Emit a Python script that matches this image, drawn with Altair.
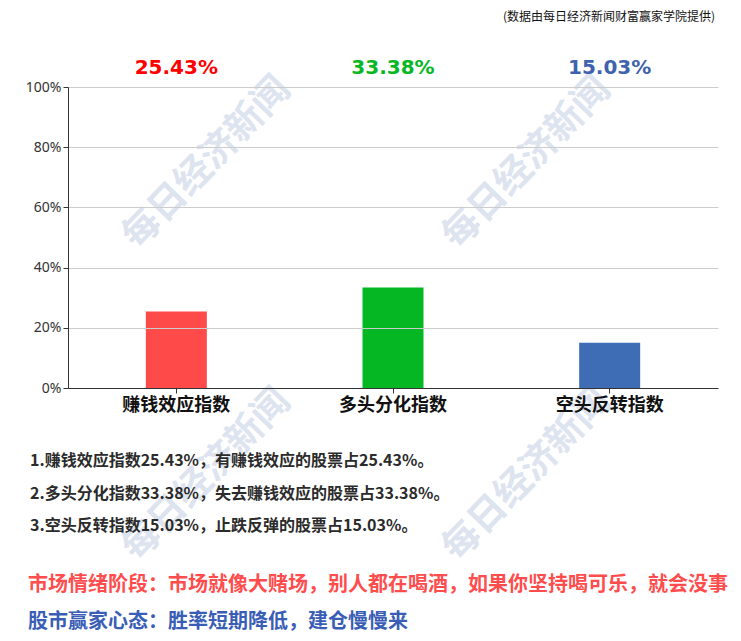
import altair as alt
import pandas as pd

categories = ["赚钱效应指数", "多头分化指数", "空头反转指数"]
values = [25.43, 33.38, 15.03]
bar_colors = ["#FF4A4A", "#05B823", "#3E6DB5"]
label_colors = ["#FF0000", "#05B823", "#3E62AE"]
y_ticks = [0, 0.2, 0.4, 0.6, 0.8, 1.0]

notes = [
    "1.赚钱效应指数25.43%，有赚钱效应的股票占25.43%。",
    "2.多头分化指数33.38%，失去赚钱效应的股票占33.38%。",
    "3.空头反转指数15.03%，止跌反弹的股票占15.03%。",
]
source_note = "(数据由每日经济新闻财富赢家学院提供)"
mood_line = "市场情绪阶段：市场就像大赌场，别人都在喝酒，如果你坚持喝可乐，就会没事"
mind_line = "股市赢家心态：胜率短期降低，建仓慢慢来"
watermark = "每日经济新闻"

CJK = "Noto Sans CJK SC"

df = pd.DataFrame({
    "cat": categories,
    "value": [v / 100 for v in values],
    "bar_color": bar_colors,
    "label_color": label_colors,
    "label": [f"{v:.2f}%" for v in values],
})

x_enc = alt.X(
    "cat:N", sort=categories, title=None,
    axis=alt.Axis(labelAngle=0, labelFontSize=18, labelFontWeight="bold",
                  labelFont=CJK, labelColor="#111", domainColor="#333",
                  tickColor="#333", tickSize=5, labelPadding=3, zindex=1),
)
y_enc = alt.Y(
    "value:Q", scale=alt.Scale(domain=[0, 1]), title=None,
    axis=alt.Axis(format=".0%", values=y_ticks, labelFontSize=14,
                  labelFont="Noto Sans", labelColor="#333", gridColor="#cccccc",
                  domainColor="#333", tickColor="#333", tickSize=5, labelPadding=2,
                  zindex=1),
)


def text_layer(txt, px, py, size, color, align="left", weight="bold", font=CJK, angle=0, opacity=1.0):
    return alt.Chart(pd.DataFrame({"t": [txt]})).mark_text(
        align=align, baseline="middle", fontSize=size, fontWeight=weight,
        font=font, color=color, angle=angle, opacity=opacity,
    ).encode(text="t:N", x=alt.value(px), y=alt.value(py))


wm_layers = [
    text_layer(watermark, px, py, 37, "#dde4ef", align="center", angle=314)
    for px, py in [(139, 76), (459, 76), (139, 388), (459, 388)]
]

bars = alt.Chart(df).mark_bar(size=61).encode(
    x=x_enc, y=y_enc, color=alt.Color("bar_color:N", scale=None)
)

top_labels = alt.Chart(df).mark_text(
    baseline="middle", fontSize=20, fontWeight="bold", font="DejaVu Sans"
).encode(
    x=alt.X("cat:N", sort=categories),
    y=alt.value(-19),
    text="label:N",
    color=alt.Color("label_color:N", scale=None),
)

note_layers = [
    text_layer(n, -38, 374 + i * 32.5, 16, "#2b2b2b")
    for i, n in enumerate(notes)
]

extra = [
    text_layer(source_note, 647, -70, 12, "#111", align="right", weight="normal"),
    text_layer(mood_line, -40, 498, 20, "#FF4D4D"),
    text_layer(mind_line, -40, 535, 20, "#3A5DB5"),
]

chart = alt.layer(*wm_layers, bars, top_labels, *note_layers, *extra).properties(
    width=650, height=301,
    autosize=alt.AutoSizeParams(type="none"),
    padding={"left": 60, "top": 79, "right": 15, "bottom": 245},
    background="white",
).configure_view(stroke=None)

chart.save("out.html", embed_options={"renderer": "svg", "actions": False})
